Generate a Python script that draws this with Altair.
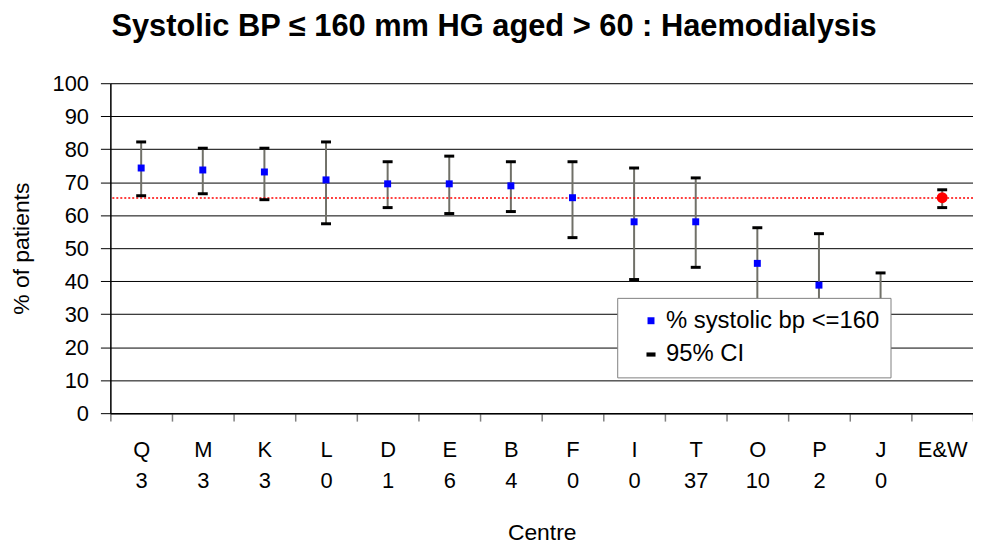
import altair as alt
import pandas as pd

# ---- data ----
centres = ["Q", "M", "K", "L", "D", "E", "B", "F", "I", "T", "O", "P", "J", "E&W"]
counts = ["3", "3", "3", "0", "1", "6", "4", "0", "0", "37", "10", "2", "0", ""]
pct = [74.3, 73.7, 73.1, 70.7, 69.5, 69.5, 68.9, 65.3, 58.0, 58.0, 45.4, 38.8, 28.0, 65.3]
upper = [82.2, 80.3, 80.3, 82.2, 76.2, 77.9, 76.2, 76.2, 74.3, 71.3, 56.2, 54.4, 42.5, 67.7]
lower = [65.9, 66.5, 64.7, 57.4, 62.3, 60.5, 61.1, 53.2, 40.5, 44.2, 34.0, 24.0, 16.0, 62.3]
national = 65.2

series_names = ["% systolic bp <=160", "95% CI"]
y_ticks = list(range(0, 101, 10))

FONT = "Liberation Sans"

labels = [c if n == "" else f"{c}|{n}" for c, n in zip(centres, counts)]
df = pd.DataFrame({
    "centre": centres,
    "label": labels,
    "pct": pct,
    "upper": upper,
    "lower": lower,
})
df["series"] = series_names[0]
df_centres = df[df["centre"] != "E&W"]
df_ew = df[df["centre"] == "E&W"]

x_axis = alt.Axis(
    title="Centre",
    labelAngle=0,
    labelExpr="split(datum.label, '|')",
    labelLineHeight=31,
    labelFontSize=22,
    labelFont=FONT,
    labelColor="black",
    labelPadding=19,
    labelBaseline="top",
    tickBand="extent",
    tickSize=8,
    tickColor="#808080",
    tickWidth=1.5,
    domainColor="black",
    domainWidth=1.5,
    titleFont=FONT,
    titleFontSize=23,
    titleFontWeight="normal",
    titleColor="black",
    titleBaseline="alphabetic",
    titleY=127,
    grid=False,
)
x_scale = alt.Scale(paddingInner=0, paddingOuter=0)


def X():
    return alt.X("label:N", sort=labels, scale=x_scale, axis=x_axis)


y_scale = alt.Scale(domain=[0, 100], nice=False, zero=True)
y_axis = alt.Axis(
    title="% of patients",
    values=y_ticks,
    labelOverlap=False,
    grid=True,
    gridColor="black",
    gridWidth=1,
    domainColor="black",
    domainWidth=1.5,
    tickColor="black",
    tickSize=10,
    tickWidth=1,
    labelFontSize=22,
    labelFont=FONT,
    labelColor="black",
    labelPadding=12,
    titleFont=FONT,
    titleFontSize=23,
    titleFontWeight="normal",
    titleColor="black",
    titleAngle=-90,
    titleAlign="center",
    titleBaseline="middle",
    titleX=-89,
    titleY=166,
)


def Y(field):
    return alt.Y(field, scale=y_scale, axis=y_axis)


base = alt.Chart(df)

bars = base.mark_rule(color="#707068", strokeWidth=2).encode(
    x=X(), y=Y("lower:Q"), y2="upper:Q",
)

ref = alt.Chart(pd.DataFrame({"national": [national]})).mark_rule(
    color="#ff0000", strokeWidth=1.5, strokeDash=[2, 2]
).encode(y=Y("national:Q"))

cap_lo = base.mark_tick(color="black", size=10, thickness=3, opacity=1).encode(
    x=X(), y=Y("lower:Q")
)
cap_hi = base.mark_tick(color="black", size=10, thickness=3, opacity=1).encode(
    x=X(), y=Y("upper:Q")
)

legend = alt.Legend(
    title=None,
    orient="none",
    legendX=510,
    legendY=216,
    fillColor="white",
    strokeColor="#808080",
    padding=11,
    rowPadding=10,
    labelFont=FONT,
    labelFontSize=24,
    labelColor="black",
    labelLimit=500,
    symbolSize=49,
    symbolOffset=11,
    labelOffset=3,
    symbolStrokeWidth=0,
)

dash = "M-1.3,-0.6L1.3,-0.6L1.3,0.6L-1.3,0.6Z"

points = alt.Chart(df_centres).mark_point(filled=True, size=49, opacity=1).encode(
    x=X(),
    y=Y("pct:Q"),
    color=alt.Color(
        "series:N",
        scale=alt.Scale(domain=series_names, range=["#0000ff", "black"]),
        legend=legend,
    ),
    shape=alt.Shape(
        "series:N",
        scale=alt.Scale(domain=series_names, range=["square", dash]),
        legend=legend,
    ),
)

ew = alt.Chart(df_ew).mark_point(
    filled=True, size=120, opacity=1, shape="circle", color="#ff0000"
).encode(
    x=X(),
    y=Y("pct:Q"),
)

chart = alt.layer(bars, ref, cap_lo, cap_hi, points, ew).properties(
    width=868,
    height=332,
    title=alt.TitleParams(
        text="Systolic BP \u2264 160 mm HG aged > 60 : Haemodialysis",
        font=FONT,
        fontSize=31,
        fontWeight="bold",
        color="black",
        anchor="middle",
        dx=-48,
        offset=30,
    ),
    padding={"left": 103, "top": 74, "right": 0, "bottom": 134},
    autosize=alt.AutoSizeParams(type="none"),
).configure_view(
    fill="#ffffcc", stroke="#808080", strokeWidth=1.5
).configure(background="white")

chart.save("out.html", embed_options={"renderer": "svg", "actions": False})
